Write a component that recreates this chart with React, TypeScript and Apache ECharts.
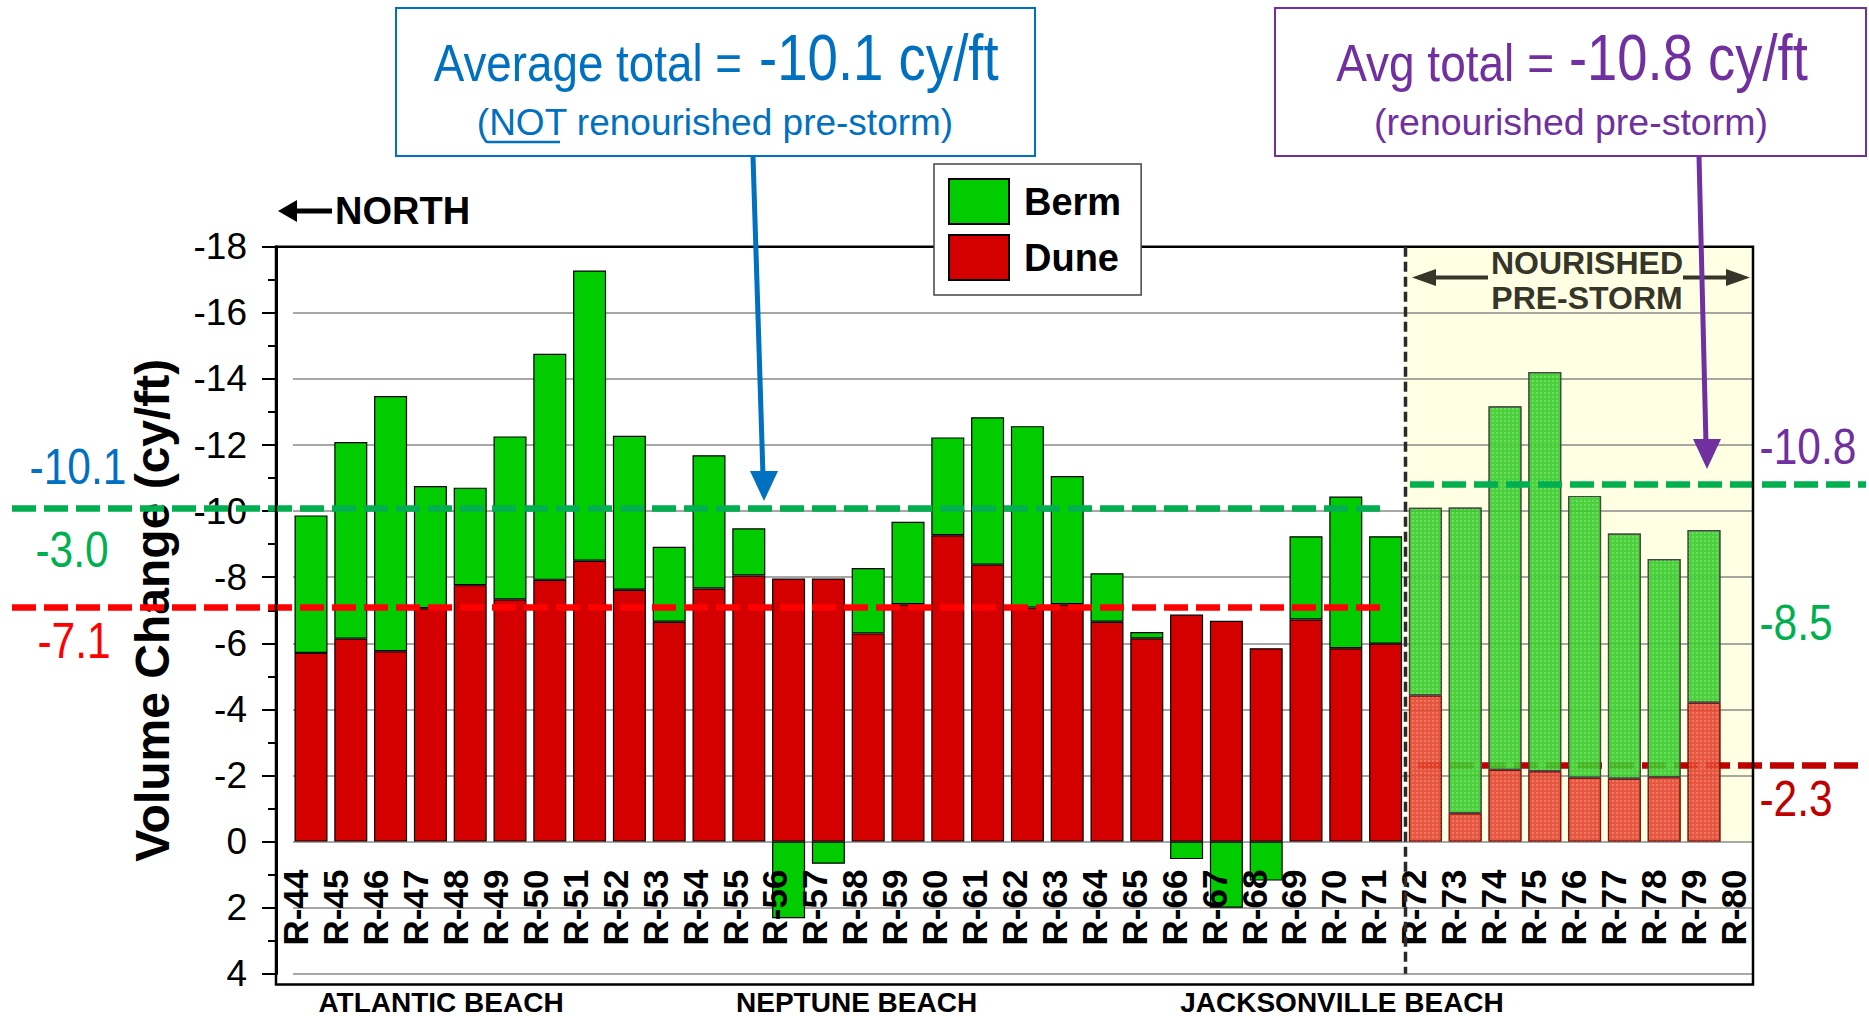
import React, { useEffect, useRef } from 'react';
import * as echarts from 'echarts';

// ---------------- DATA ----------------
const stations = [
  'R-44', 'R-45', 'R-46', 'R-47', 'R-48', 'R-49', 'R-50', 'R-51', 'R-52', 'R-53',
  'R-54', 'R-55', 'R-56', 'R-57', 'R-58', 'R-59', 'R-60', 'R-61', 'R-62', 'R-63',
  'R-64', 'R-65', 'R-66', 'R-67', 'R-68', 'R-69', 'R-70', 'R-71', 'R-72', 'R-73',
  'R-74', 'R-75', 'R-76', 'R-77', 'R-78', 'R-79', 'R-80',
];
// one bar per reach, named by its northern monument
const reaches = stations.slice(0, 36);

const duneChange = [
  -5.71, -6.14, -5.76, -7.06, -7.76, -7.33, -7.92, -8.5, -7.62, -6.65,
  -7.66, -8.05, -7.96, -7.96, -6.3, -7.18, -9.27, -8.38, -7.08, -7.18,
  -6.65, -6.15, -6.87, -6.68, -5.85, -6.72, -5.85, -5.99, -4.42, -0.86,
  -2.17, -2.13, -1.93, -1.9, -1.95, -4.2,
];
const bermChange = [
  -4.16, -5.95, -7.72, -3.7, -2.95, -4.93, -6.84, -8.78, -4.66, -2.27,
  -4.03, -1.43, 2.32, 0.67, -1.98, -2.5, -2.96, -4.46, -5.49, -3.88,
  -1.47, -0.19, 0.53, 2.0, 1.18, -2.52, -4.59, -3.25, -5.68, -9.25,
  -11.0, -12.08, -8.53, -7.42, -6.6, -5.23,
];
const firstNourishedReach = 'R-72';

const notNourishedAvg = { total: -10.1, berm: -3.0, dune: -7.1 };
const nourishedAvg = { total: -10.8, berm: -8.5, dune: -2.3 };

const beachNames = ['ATLANTIC BEACH', 'NEPTUNE BEACH', 'JACKSONVILLE BEACH'];

const yMin = -18;
const yMax = 4;
const yStep = 2;

// ---------------- LAYOUT / STYLE ----------------
const W = 1869;
const H = 1016;
const PL = 276; // plot left
const PR = 1753; // plot right
const PT = 246.7; // plot top (-18)
const PB = 973.8; // value 4
const FRAME_B = 984.6; // frame bottom
const BAR_L = 291.1;
const BAR_R = 1723.9;
const GRIDLINE_L = 293;
const DIVIDER_X = 1405.5;
// the station labels hang from the zero line of the value scale
const ZERO_Y = PT + ((0 - yMin) / (yMax - yMin)) * (PB - PT);

const FONT = '"Liberation Sans", Arial, Helvetica, sans-serif';
const BLUE = '#0070C0';
const PURPLE = '#7030A0';
const GREEN_LINE = '#00B050';
const RED_LINE = '#FF0000';
const DARK_RED = '#C00000';
const BERM = '#00CC00';
const DUNE = '#D40000';
const NOUR_BERM = '#36CC28';
const NOUR_DUNE = '#E4452C';
const ZONE = '#FFFFE3';
const OLIVE = '#35352a';

const fmt = (v: number) => v.toFixed(1);

const nourishedIdx = reaches.indexOf(firstNourishedReach);

const texture = {
  symbol: 'rect',
  symbolSize: 1,
  dashArrayX: [2, 2],
  dashArrayY: [2, 2],
  rotation: 0,
  color: 'rgba(255,255,255,0.22)',
};

const duneData = duneChange.map((v, i) =>
  i >= nourishedIdx
    ? { value: v, itemStyle: { color: NOUR_DUNE, borderColor: '#7a1a10', opacity: 0.9, decal: texture } }
    : v
);
const bermData = bermChange.map((v, i) =>
  i >= nourishedIdx
    ? { value: v, itemStyle: { color: NOUR_BERM, borderColor: '#444', opacity: 0.9, decal: texture } }
    : v
);

const refLine = (y: number, x1: number, x2: number, color: string) => [
  { yAxis: y, x: x1, lineStyle: { color } },
  { yAxis: y, x: x2 },
];

const sideLabel = (x: number, y: number, text: string, color: string) => ({
  type: 'text',
  x,
  y,
  scaleX: 0.85,
  z: 20,
  silent: true,
  style: {
    text,
    fontSize: 50,
    fontFamily: FONT,
    fill: color,
    align: 'center',
    verticalAlign: 'middle',
  },
});

const boxText = (
  x: number,
  y: number,
  text: string,
  fontSize: number,
  scaleX: number,
  align: string,
  color: string
) => ({
  type: 'text',
  x,
  y,
  scaleX,
  z: 21,
  silent: true,
  style: { text, fontSize, fontFamily: FONT, fill: color, align, verticalAlign: 'middle' },
});

const arrowHead = (tipX: number, tipY: number, half: number, len: number, color: string) => ({
  type: 'polygon',
  z: 20,
  silent: true,
  shape: {
    points: [
      [tipX, tipY],
      [tipX - half, tipY - len],
      [tipX + half, tipY - len],
    ],
  },
  style: { fill: color },
});

const graphic: any[] = [
  // plot frame
  {
    type: 'rect',
    z: 10,
    silent: true,
    shape: { x: PL, y: PT, width: PR - PL, height: FRAME_B - PT },
    style: { fill: 'none', stroke: '#000', lineWidth: 2.5 },
  },
  // divider at R-72
  {
    type: 'line',
    z: 10,
    silent: true,
    shape: { x1: DIVIDER_X, y1: PT, x2: DIVIDER_X, y2: PB },
    style: { stroke: '#2a2a2a', lineWidth: 3.5, lineDash: [10, 5] },
  },
  // NOURISHED PRE-STORM
  {
    type: 'text',
    z: 10,
    x: 1587,
    y: 262.5,
    silent: true,
    style: { text: 'NOURISHED', fontSize: 32, fontWeight: 'bold', fontFamily: FONT, fill: OLIVE, align: 'center', verticalAlign: 'middle' },
  },
  {
    type: 'text',
    z: 10,
    x: 1587,
    y: 297.5,
    silent: true,
    style: { text: 'PRE-STORM', fontSize: 32, fontWeight: 'bold', fontFamily: FONT, fill: OLIVE, align: 'center', verticalAlign: 'middle' },
  },
  { type: 'line', z: 10, silent: true, shape: { x1: 1430, y1: 277.5, x2: 1488, y2: 277.5 }, style: { stroke: OLIVE, lineWidth: 4 } },
  { type: 'polygon', z: 10, silent: true, shape: { points: [[1412, 277.5], [1436, 269], [1436, 286]] }, style: { fill: OLIVE } },
  { type: 'line', z: 10, silent: true, shape: { x1: 1683, y1: 277.5, x2: 1732, y2: 277.5 }, style: { stroke: OLIVE, lineWidth: 4 } },
  { type: 'polygon', z: 10, silent: true, shape: { points: [[1750, 277.5], [1726, 269], [1726, 286]] }, style: { fill: OLIVE } },
  // NORTH
  { type: 'line', z: 10, silent: true, shape: { x1: 292, y1: 211, x2: 332, y2: 211 }, style: { stroke: '#000', lineWidth: 5 } },
  { type: 'polygon', z: 10, silent: true, shape: { points: [[278, 211], [297, 200], [297, 222]] }, style: { fill: '#000' } },
  {
    type: 'text',
    z: 10,
    x: 335,
    y: 211,
    silent: true,
    style: { text: 'NORTH', fontSize: 38, fontWeight: 'bold', fontFamily: FONT, fill: '#000', align: 'left', verticalAlign: 'middle' },
  },
  // blue annotation box
  {
    type: 'rect',
    z: 20,
    silent: true,
    shape: { x: 396, y: 8, width: 639, height: 148 },
    style: { fill: '#fff', stroke: BLUE, lineWidth: 2 },
  },
  boxText(742, 62.5, 'Average total =', 52, 0.88, 'right', BLUE),
  boxText(759, 58.3, `${fmt(notNourishedAvg.total)} cy/ft`, 64, 0.853, 'left', BLUE),
  boxText(715, 122.2, '(NOT renourished pre-storm)', 37, 1, 'center', BLUE),
  { type: 'line', z: 21, silent: true, shape: { x1: 487, y1: 142, x2: 560, y2: 142 }, style: { stroke: BLUE, lineWidth: 2.7 } },
  { type: 'line', z: 20, silent: true, shape: { x1: 753, y1: 156, x2: 763, y2: 476 }, style: { stroke: BLUE, lineWidth: 5 } },
  arrowHead(764, 501, 14, 30, BLUE),
  // purple annotation box
  {
    type: 'rect',
    z: 20,
    silent: true,
    shape: { x: 1275, y: 8, width: 591, height: 148 },
    style: { fill: '#fff', stroke: PURPLE, lineWidth: 2 },
  },
  boxText(1554, 62.5, 'Avg total =', 52, 0.885, 'right', PURPLE),
  boxText(1569, 58.3, `${fmt(nourishedAvg.total)} cy/ft`, 64, 0.85, 'left', PURPLE),
  boxText(1571, 122.2, '(renourished pre-storm)', 37.5, 1, 'center', PURPLE),
  { type: 'line', z: 20, silent: true, shape: { x1: 1699, y1: 156, x2: 1706, y2: 444 }, style: { stroke: PURPLE, lineWidth: 5 } },
  arrowHead(1707, 469, 14, 30, PURPLE),
  // side average labels
  sideLabel(78, 467, fmt(notNourishedAvg.total), BLUE),
  sideLabel(72, 550, fmt(notNourishedAvg.berm), GREEN_LINE),
  sideLabel(74, 641, fmt(notNourishedAvg.dune), RED_LINE),
  sideLabel(1808, 447, fmt(nourishedAvg.total), PURPLE),
  sideLabel(1796, 623, fmt(nourishedAvg.berm), GREEN_LINE),
  sideLabel(1796, 799, fmt(nourishedAvg.dune), DARK_RED),
  // beach names
  ...beachNames.map((name, i) => ({
    type: 'text',
    z: 10,
    x: [441, 856.6, 1342][i],
    y: 1002,
    silent: true,
    style: { text: name, fontSize: 28, fontWeight: 'bold', fontFamily: FONT, fill: '#000', align: 'center', verticalAlign: 'middle' },
  })),
];

const hiddenAxisParts = {
  axisLine: { show: false },
  axisTick: { show: false },
  axisLabel: { show: false },
  splitLine: { show: false },
};

const gridBase = { outerBoundsMode: 'none', containLabel: false };

const option: any = {
  animation: false,
  backgroundColor: '#fff',
  grid: [
    { ...gridBase, left: PL, right: W - PR, top: PT, bottom: H - PB },
    { ...gridBase, left: BAR_L, right: W - BAR_R, top: PT, bottom: H - PB },
    { ...gridBase, left: GRIDLINE_L, right: W - PR, top: PT, bottom: H - PB },
    { ...gridBase, left: PL, right: W - PR, top: PT, bottom: H - ZERO_Y },
  ],
  xAxis: [
    { type: 'category', gridIndex: 0, data: stations, boundaryGap: true, ...hiddenAxisParts },
    { type: 'category', gridIndex: 1, data: reaches, boundaryGap: true, ...hiddenAxisParts },
    { type: 'value', gridIndex: 2, min: 0, max: 1, ...hiddenAxisParts },
    {
      type: 'category',
      gridIndex: 3,
      position: 'bottom',
      data: stations,
      boundaryGap: true,
      z: 8,
      axisLine: { show: false },
      axisTick: { show: false },
      splitLine: { show: false },
      axisLabel: {
        interval: 0,
        rotate: 90,
        margin: 28,
        fontSize: 35,
        fontWeight: 'bold',
        fontFamily: FONT,
        color: '#000',
      },
    },
  ],
  yAxis: [
    {
      type: 'value',
      gridIndex: 0,
      inverse: true,
      min: yMin,
      max: yMax,
      interval: yStep,
      axisLine: { show: true, onZero: false, lineStyle: { color: '#000', width: 3 } },
      axisTick: { show: true, length: 14, lineStyle: { color: '#000', width: 2 } },
      minorTick: { show: true, splitNumber: 2, length: 8, lineStyle: { color: '#000', width: 2 } },
      axisLabel: { margin: 29, fontSize: 37, fontFamily: FONT, color: '#000' },
      splitLine: { show: false },
      name: 'Volume Change (cy/ft)',
      nameLocation: 'middle',
      nameGap: 100,
      nameTextStyle: { fontSize: 48, fontWeight: 'bold', fontFamily: FONT, color: '#000' },
    },
    { type: 'value', gridIndex: 1, inverse: true, min: yMin, max: yMax, interval: yStep, ...hiddenAxisParts },
    {
      type: 'value',
      gridIndex: 2,
      inverse: true,
      min: yMin,
      max: yMax,
      interval: yStep,
      axisLine: { show: false },
      axisTick: { show: false },
      axisLabel: { show: false },
      splitLine: { show: true, lineStyle: { color: '#8a8a8a', width: 1.5 } },
    },
    { type: 'value', gridIndex: 3, inverse: true, min: yMin, max: 0, ...hiddenAxisParts },
  ],
  legend: {
    data: ['Berm', 'Dune'],
    orient: 'vertical',
    left: 934,
    top: 164,
    padding: [14, 20, 14, 14],
    itemWidth: 60,
    itemHeight: 45,
    itemGap: 9,
    icon: 'rect',
    backgroundColor: '#fff',
    borderColor: '#444',
    borderWidth: 1.5,
    selectedMode: false,
    textStyle: { fontSize: 38, fontWeight: 'bold', fontFamily: FONT, color: '#000', padding: [0, 0, 0, 10] },
    z: 15,
  },
  series: [
    {
      name: 'Dune',
      type: 'bar',
      xAxisIndex: 1,
      yAxisIndex: 1,
      stack: 'volume',
      barWidth: 33,
      data: duneData,
      itemStyle: { color: DUNE, borderColor: '#000', borderWidth: 1.2 },
      z: 2,
    },
    {
      name: 'Berm',
      type: 'bar',
      xAxisIndex: 1,
      yAxisIndex: 1,
      stack: 'volume',
      barWidth: 33,
      data: bermData,
      itemStyle: { color: BERM, borderColor: '#000', borderWidth: 1.2 },
      z: 2,
    },
    {
      name: 'averages',
      type: 'line',
      xAxisIndex: 2,
      yAxisIndex: 2,
      data: [],
      showSymbol: false,
      markArea: {
        silent: true,
        z: -1,
        itemStyle: { color: ZONE },
        data: [[{ x: DIVIDER_X, yAxis: yMin }, { x: PR, yAxis: 0 }]],
      },
      markLine: {
        silent: true,
        z: 5,
        symbol: ['none', 'none'],
        label: { show: false },
        lineStyle: { type: [24, 8], width: 6.5 },
        data: [
          refLine(notNourishedAvg.total, 12, 1380, GREEN_LINE),
          refLine(notNourishedAvg.dune, 12, 1380, RED_LINE),
          refLine(nourishedAvg.total, 1410, 1866, GREEN_LINE),
        ],
      },
    },
    {
      name: 'averagesLow',
      type: 'line',
      xAxisIndex: 2,
      yAxisIndex: 2,
      data: [],
      showSymbol: false,
      markLine: {
        silent: true,
        z: 1,
        symbol: ['none', 'none'],
        label: { show: false },
        lineStyle: { type: [24, 8], width: 6.5 },
        data: [refLine(nourishedAvg.dune, 1418, 1860, DARK_RED)],
      },
    },
  ],
  graphic,
};

export default function App() {
  const ref = useRef<HTMLDivElement>(null);
  useEffect(() => {
    const chart = echarts.init(ref.current as HTMLDivElement, null, { renderer: 'svg' });
    chart.setOption(option);
    return () => chart.dispose();
  }, []);
  return (
    <div
      ref={ref}
      style={{ position: 'fixed', left: 0, top: 0, width: W, height: H, background: '#fff' }}
    />
  );
}
